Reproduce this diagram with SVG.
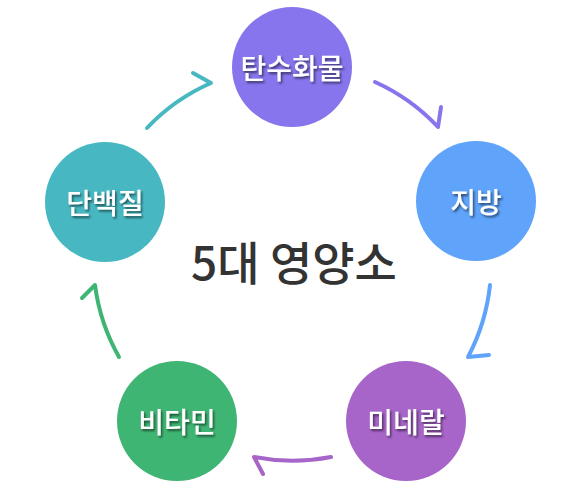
<svg xmlns="http://www.w3.org/2000/svg" width="585" height="490" viewBox="0 0 585 490">
<defs>
<filter id="sh" x="-20%" y="-20%" width="140%" height="160%">
<feDropShadow dx="1.5" dy="2" stdDeviation="1" flood-color="#000" flood-opacity="0.55"/>
</filter>
</defs>
<style>
.lbl{font-family:"Noto Sans CJK KR","Noto Sans",sans-serif;font-size:28px;font-weight:500;fill:#fff;text-anchor:middle;dominant-baseline:central;filter:url(#sh)}
.title{font-family:"Noto Sans CJK KR","Noto Sans",sans-serif;font-size:46px;font-weight:500;fill:#333;text-anchor:middle}
.arr{fill:none;stroke-width:4;stroke-linecap:round;stroke-linejoin:round}
</style>
<rect width="585" height="490" fill="#fff"/>
<g id="connectors">
<path class="arr" stroke="#47b8c2" d="M147,128 A196,196 0 0 1 211,83 L193,73"/>
<path class="arr" stroke="#8675ec" d="M375,82 A197,197 0 0 1 438,127 L441,107"/>
<path class="arr" stroke="#5fa3fb" d="M490,285 A199,199 0 0 1 468,357 L489,355"/>
<path class="arr" stroke="#a865c9" d="M331,457 A200,200 0 0 1 254,457 L263,474"/>
<path class="arr" stroke="#3fb574" d="M119,357 A198,198 0 0 1 95,285 L82,298"/>
</g>
<g id="node-carb">
<circle cx="292" cy="67" r="60" fill="#8675ec"/>
<text class="lbl" x="292" y="67">탄수화물</text>
</g>
<g id="node-fat">
<circle cx="476" cy="201" r="60" fill="#5fa3fb"/>
<text class="lbl" x="476" y="201">지방</text>
</g>
<g id="node-mineral">
<circle cx="406" cy="421" r="60" fill="#a865c9"/>
<text class="lbl" x="406" y="421">미네랄</text>
</g>
<g id="node-vitamin">
<circle cx="177" cy="421" r="60" fill="#3fb574"/>
<text class="lbl" x="177" y="421">비타민</text>
</g>
<g id="node-protein">
<circle cx="105" cy="202" r="60" fill="#47b8c2"/>
<text class="lbl" x="105" y="202">단백질</text>
</g>
<g id="title">
<text class="title" x="294" y="280">5대 영양소</text>
</g>
</svg>
